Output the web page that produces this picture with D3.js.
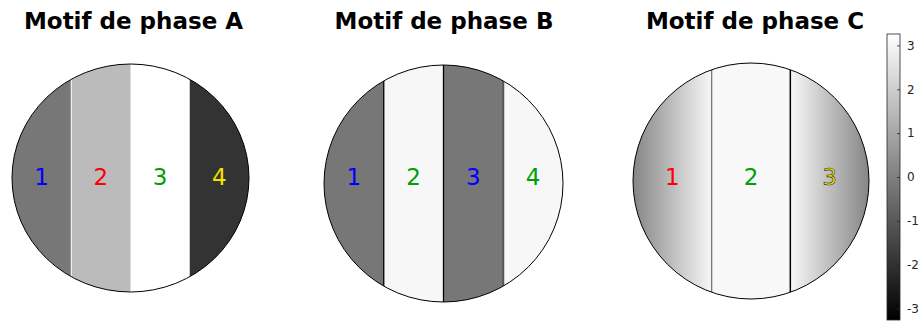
<!DOCTYPE html>
<html>
<head>
<meta charset="utf-8">
<script src="https://cdn.jsdelivr.net/npm/d3@7"></script>
<style>
  html, body { margin: 0; padding: 0; background: #fff; }
  svg { display: block; }
</style>
</head>
<body>
<svg id="chart" width="919" height="325"></svg>
<script>
// ---------- data ----------
const titles = ["Motif de phase A", "Motif de phase B", "Motif de phase C"];
// phase value (rad) of each stripe; C stripes have a start/end value (gradient)
const phaseA = [-0.22, 1.52, 3.26, -1.96];
const phaseB = [-0.22, 3.05, -0.22, 3.05];
const phaseCStart = [0.15, 3.08, 3.08];
const phaseCEnd   = [3.08, 3.08, 0.15];
const labelsA = ["1", "2", "3", "4"];
const labelsB = ["1", "2", "3", "4"];
const labelsC = ["1", "2", "3"];
const labelColorsA = ["#0000ff", "#ff0000", "#00a000", "#f2e200"];
const labelColorsB = ["#0000ff", "#00a000", "#0000ff", "#00a000"];
const labelColorsC = ["#ff0000", "#00a000", "#f2e200"];
const cbarTicks = [-3, -2, -1, 0, 1, 2, 3];
const cbarDomain = [-3.26, 3.26];

// ---------- layout ----------
const panels = [
  { title: titles[0], start: phaseA, end: phaseA, labels: labelsA, colors: labelColorsA,
    cx: 130.5, cy: 178, rx: 118.5, ry: 114, tx: 133.5,
    seps: [{ stroke: "#ffffff", w: 1 }, null, null] },
  { title: titles[1], start: phaseB, end: phaseB, labels: labelsB, colors: labelColorsB,
    cx: 443.5, cy: 183.5, rx: 119.5, ry: 118.5, tx: 444,
    seps: [{ stroke: "#000", w: 1.3 }, { stroke: "#000", w: 1.3 }, { stroke: "#555", w: 2 }] },
  { title: titles[2], start: phaseCStart, end: phaseCEnd, labels: labelsC, colors: labelColorsC,
    cx: 751, cy: 181, rx: 118, ry: 118, tx: 755,
    seps: [{ stroke: "#777", w: 1.3 }, { stroke: "#000", w: 1.5 }] }
];
const labelY = 177;

const svg = d3.select("#chart");
const defs = svg.append("defs");
const color = d3.scaleLinear().domain(cbarDomain).range(["#000000", "#ffffff"]).clamp(true);

panels.forEach((p, pi) => {
  const n = p.start.length;
  const x = d3.scaleLinear().domain([0, n]).range([p.cx - p.rx, p.cx + p.rx]);
  const y = d3.scaleLinear().domain([-1, 1]).range([p.cy + p.ry, p.cy - p.ry]);

  const clipId = "clip" + pi;
  defs.append("clipPath").attr("id", clipId)
    .append("ellipse").attr("cx", p.cx).attr("cy", p.cy).attr("rx", p.rx).attr("ry", p.ry);

  const g = svg.append("g");
  const inner = g.append("g").attr("clip-path", `url(#${clipId})`);

  d3.range(n).forEach(i => {
    let fill;
    if (p.start[i] === p.end[i]) {
      fill = color(p.start[i]);
    } else {
      const gid = `grad${pi}_${i}`;
      const lg = defs.append("linearGradient").attr("id", gid)
        .attr("x1", "0%").attr("x2", "100%").attr("y1", "0%").attr("y2", "0%");
      lg.append("stop").attr("offset", "0%").attr("stop-color", color(p.start[i]));
      lg.append("stop").attr("offset", "100%").attr("stop-color", color(p.end[i]));
      fill = `url(#${gid})`;
    }
    inner.append("rect")
      .attr("x", x(i)).attr("y", y(1))
      .attr("width", x(i + 1) - x(i) + (i < n - 1 ? 0.5 : 0))
      .attr("height", y(-1) - y(1))
      .attr("fill", fill);
  });

  d3.range(1, n).forEach(i => {
    const s = p.seps[i - 1];
    if (!s) return;
    inner.append("line")
      .attr("x1", x(i)).attr("x2", x(i))
      .attr("y1", y(1)).attr("y2", y(-1))
      .attr("stroke", s.stroke).attr("stroke-width", s.w);
  });

  g.append("ellipse")
    .attr("cx", p.cx).attr("cy", p.cy).attr("rx", p.rx).attr("ry", p.ry)
    .attr("fill", "none").attr("stroke", "#000").attr("stroke-width", 1);

  g.selectAll("text.lab").data(p.labels).enter().append("text")
    .attr("class", "lab")
    .attr("x", (d, i) => x(i + 0.5))
    .attr("y", labelY)
    .attr("dy", "0.35em")
    .attr("text-anchor", "middle")
    .attr("font-family", "DejaVu Sans, sans-serif")
    .attr("font-size", 23)
    .attr("fill", (d, i) => p.colors[i])
    .attr("stroke", (d, i) => (pi === 2 && i === n - 1) ? "#333" : "none")
    .attr("stroke-width", 0.6)
    .text(d => d);

  svg.append("text")
    .attr("x", p.tx).attr("y", 29)
    .attr("text-anchor", "middle")
    .attr("font-family", "DejaVu Sans, sans-serif")
    .attr("font-weight", "bold")
    .attr("font-size", 23)
    .attr("fill", "#000")
    .text(p.title);
});

// ---------- colorbar ----------
const cbX = 887, cbW = 13;
const cy = d3.scaleLinear().domain(cbarDomain).range([320, 34]);
const cg = defs.append("linearGradient").attr("id", "cbgrad")
  .attr("x1", "0%").attr("x2", "0%").attr("y1", "100%").attr("y2", "0%");
cg.append("stop").attr("offset", "0%").attr("stop-color", color(cbarDomain[0]));
cg.append("stop").attr("offset", "100%").attr("stop-color", color(cbarDomain[1]));

svg.append("rect")
  .attr("x", cbX).attr("y", cy(cbarDomain[1]))
  .attr("width", cbW).attr("height", cy(cbarDomain[0]) - cy(cbarDomain[1]))
  .attr("fill", "url(#cbgrad)");

const axis = d3.axisRight(cy).tickValues(cbarTicks).tickSizeInner(-3).tickSizeOuter(0)
  .tickPadding(7).tickFormat(d => d < 0 ? "-" + Math.abs(d) : String(d));
const ag = svg.append("g").attr("transform", `translate(${cbX + cbW},0)`).call(axis);
ag.select(".domain").remove();
ag.selectAll(".tick line").attr("stroke", "#262626").attr("stroke-width", 0.8);
ag.selectAll(".tick text").attr("font-family", "DejaVu Sans, sans-serif")
  .attr("font-size", 12).attr("fill", "#262626");

svg.append("rect")
  .attr("x", cbX).attr("y", cy(cbarDomain[1]))
  .attr("width", cbW).attr("height", cy(cbarDomain[0]) - cy(cbarDomain[1]))
  .attr("fill", "none").attr("stroke", "#262626").attr("stroke-width", 0.8);
</script>
</body>
</html>
